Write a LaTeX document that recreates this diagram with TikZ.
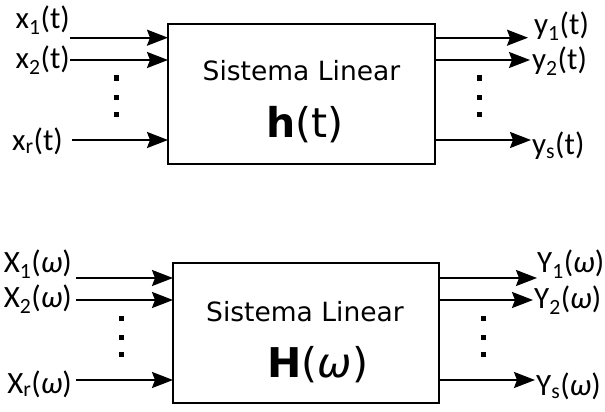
\documentclass[tikz,border=0pt]{standalone}
\usepackage{fontspec}
\setmainfont{Carlito}
\newfontfamily\boxfont{DejaVu Sans}
\usetikzlibrary{arrows.meta}
\begin{document}
\begin{tikzpicture}[x=1pt,y=-1pt,
  sig/.style={line width=2pt,-{Stealth[length=21pt,width=16pt,inset=3pt]}},
  blk/.style={draw,line width=2pt,minimum width=267pt,minimum height=140pt,inner sep=0pt,outer sep=0pt},
  lbl/.style={font=\fontsize{31}{36}\selectfont,inner sep=0pt},
  boxtxt/.style={font=\boxfont\fontsize{26.5}{32}\selectfont,inner sep=0pt,anchor=base},
  bigtxt/.style={font=\boxfont\fontsize{41}{48}\selectfont,inner sep=0pt,anchor=base},
  dotsq/.style={fill,minimum size=5pt,inner sep=0pt}]
\useasboundingbox (0,0) rectangle (605,412);
% ---------- top system ----------
\node[blk] (top) at (301.5,94) {};
\node[boxtxt] (tt1) at (301.5,81) {Sistema Linear};
\node[bigtxt] (tt2) at (305,137) {\textbf{h}(t)};
\coordinate (i1) at (70,37.7);
\coordinate (i2) at (70,60);
\coordinate (i3) at (72,140);
\draw[sig] (i1) -- (i1 -| top.west);
\draw[sig] (i2) -- (i2 -| top.west);
\draw[sig] (i3) -- (i3 -| top.west);
\coordinate (o1) at (528,37.7);
\coordinate (o2) at (530,60);
\coordinate (o3) at (531,140);
\draw[sig] (o1 -| top.east) -- (o1);
\draw[sig] (o2 -| top.east) -- (o2);
\draw[sig] (o3 -| top.east) -- (o3);
\node[lbl,anchor=east] (x1) at (70,20) {x\textsubscript{1}(t)};
\node[lbl,anchor=east] (x2) at (70,60) {x\textsubscript{2}(t)};
\node[lbl,anchor=east] (xr) at (63,141) {x\textsubscript{r}(t)};
\node[lbl,anchor=west] (y1) at (534,26) {y\textsubscript{1}(t)};
\node[lbl,anchor=west] (y2) at (532,61) {y\textsubscript{2}(t)};
\node[lbl,anchor=west] (ys) at (532,146) {y\textsubscript{s}(t)};
\node[dotsq] (dl1) at (116,78) {};
\node[dotsq] (dl2) at (116,97) {};
\node[dotsq] (dl3) at (116,114) {};
\node[dotsq] (dr1) at (479,78) {};
\node[dotsq] (dr2) at (479,97) {};
\node[dotsq] (dr3) at (479,114) {};
% ---------- bottom system ----------
\node[blk,minimum width=266pt] (bot) at (306,333) {};
\node[boxtxt] (bt1) at (305,321) {Sistema Linear};
\node[bigtxt] (bt2) at (318,377) {\textbf{H}(\textit{ω})};
\coordinate (j1) at (76,278);
\coordinate (j2) at (76,300);
\coordinate (j3) at (76,380);
\draw[sig] (j1) -- (j1 -| bot.west);
\draw[sig] (j2) -- (j2 -| bot.west);
\draw[sig] (j3) -- (j3 -| bot.west);
\coordinate (p1) at (537,278);
\coordinate (p2) at (533,300);
\coordinate (p3) at (535,380);
\draw[sig] (p1 -| bot.east) -- (p1);
\draw[sig] (p2 -| bot.east) -- (p2);
\draw[sig] (p3 -| bot.east) -- (p3);
\node[lbl,anchor=east] (X1) at (72,264) {X\textsubscript{1}(\textit{ω})};
\node[lbl,anchor=east] (X2) at (72,299) {X\textsubscript{2}(\textit{ω})};
\node[lbl,anchor=east] (Xr) at (72,384) {X\textsubscript{r}(\textit{ω})};
\node[lbl,anchor=west] (Y1) at (537,264) {Y\textsubscript{1}(\textit{ω})};
\node[lbl,anchor=west] (Y2) at (534,300) {Y\textsubscript{2}(\textit{ω})};
\node[lbl,anchor=west] (Ys) at (536,386) {Y\textsubscript{s}(\textit{ω})};
\node[dotsq] (el1) at (121,318) {};
\node[dotsq] (el2) at (121,337) {};
\node[dotsq] (el3) at (121,354) {};
\node[dotsq] (er1) at (483,318) {};
\node[dotsq] (er2) at (483,337) {};
\node[dotsq] (er3) at (483,354) {};
\end{tikzpicture}
\end{document}
